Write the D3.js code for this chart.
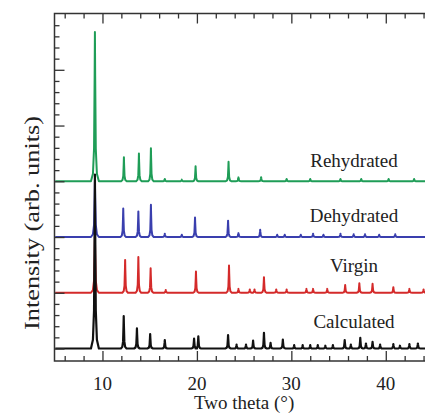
<!DOCTYPE html>
<html><head><meta charset="utf-8">
<script src="https://cdn.jsdelivr.net/npm/d3@7"></script>
<style>html,body{margin:0;padding:0;background:#fff;}svg{display:block;}</style>
</head><body><svg id="c" width="425" height="413"></svg>
<script>
// ---------- data ----------
const categories = ["Calculated", "Virgin", "Dehydrated", "Rehydrated"];
const offsets = [0, 5, 10, 15];
const colors = ["#111111", "#d42a2a", "#3a3fae", "#1f9d57"];
// peaks: [two theta, height above own baseline (arb. units)]
const calculatedPeaks = [[9.2,15.6],[12.25,2.9],[13.65,1.8],[15.05,1.3],[16.6,0.75],[19.7,0.9],[20.15,1.1],[23.3,1.2],[24.2,0.35],[25.2,0.35],[25.95,0.7],[27.1,1.4],[27.8,0.5],[29.1,0.8],[30.3,0.3],[31.2,0.3],[32.0,0.3],[32.8,0.3],[33.6,0.25],[34.4,0.3],[35.65,0.75],[36.3,0.35],[37.3,0.95],[37.9,0.45],[38.6,0.6],[39.4,0.35],[40.8,0.4],[41.5,0.25],[42.5,0.4],[43.4,0.45]];
const virginPeaks = [[9.2,5.0],[12.4,2.95],[13.8,3.2],[15.1,2.2],[16.7,0.25],[19.9,1.9],[23.4,2.45],[24.4,0.35],[25.6,0.3],[26.1,0.3],[27.1,1.4],[28.4,0.3],[29.5,0.3],[31.6,0.35],[32.3,0.35],[33.8,0.35],[35.7,0.7],[37.2,0.85],[38.6,0.8],[40.8,0.5],[42.5,0.35],[44.0,0.3]];
const dehydratedPeaks = [[9.2,5.0],[12.2,2.55],[13.8,2.3],[15.13,2.9],[16.6,0.3],[18.4,0.2],[19.8,1.75],[23.3,1.47],[24.4,0.35],[26.7,0.65],[28.5,0.2],[29.3,0.2],[31.0,0.2],[32.3,0.3],[33.4,0.2],[35.2,0.3],[36.6,0.25],[37.8,0.25],[39.3,0.2],[41.0,0.25]];
const rehydratedPeaks = [[9.2,13.4],[12.27,2.15],[13.86,2.5],[15.13,2.97],[16.6,0.2],[18.4,0.15],[19.86,1.35],[23.35,1.75],[24.4,0.35],[26.8,0.37],[29.5,0.2],[32.0,0.2],[35.2,0.2],[37.4,0.2],[40.3,0.2],[43.0,0.2]];
const seriesPeaks = [calculatedPeaks, virginPeaks, dehydratedPeaks, rehydratedPeaks];
const xTickValues = [10, 20, 30, 40];
const xTitle = "Two theta (\u00b0)";
const yTitle = "Intensity (arb. units)";

// ---------- layout ----------
const L = 54.5, T = 13.5, B = 361, R = 433;
const x = d3.scaleLinear().domain([5, 45]).range([55.25, R]);
const y = d3.scaleLinear().domain([-1.12, 30.05]).range([B, T]);
const svg = d3.select("#c");
const font = "'Liberation Serif','Times New Roman',serif";

// peak profile (shape only): [dx in widths, fraction of height]
const profile = [[-1,0],[-0.5,0.05],[-0.22,0.22],[-0.07,0.7],[0,1],[0.07,0.7],[0.22,0.22],[0.5,0.05],[1,0]];
function buildPoints(peaks) {
  const pts = [[5, 0]];
  peaks.forEach(([p, h]) => {
    const w = h > 4 ? 0.42 : 0.3;
    profile.forEach(([dx, f]) => pts.push([p + dx * w, h * f]));
  });
  pts.push([45, 0]);
  return pts;
}

svg.append("clipPath").attr("id", "pc").append("rect")
  .attr("x", L).attr("y", T).attr("width", R - L).attr("height", B - T);

const plot = svg.append("g").attr("clip-path", "url(#pc)");
const order = [3, 2, 1, 0];
order.forEach(i => {
  const off = offsets[i];
  const line = d3.line().x(d => x(d[0])).y(d => y(d[1] + off));
  plot.append("path").datum(buildPoints(seriesPeaks[i]))
    .attr("d", line).attr("fill", "none")
    .attr("stroke", colors[i]).attr("stroke-width", i === 0 ? 2.2 : 2).attr("stroke-linejoin", "round");
});

// axes
const axisColor = "#333";
const gB = svg.append("g").attr("transform", `translate(0,${B})`)
  .call(d3.axisBottom(x).tickValues(d3.range(6, 45, 2)).tickSize(0).tickFormat(""));
gB.select(".domain").remove();
gB.selectAll(".tick line").remove();
gB.selectAll(".tick").append("line").attr("y2", d => d % 10 === 0 ? -10 : -5)
  .attr("stroke", axisColor).attr("stroke-width", 1.3);
const gT = svg.append("g").attr("transform", `translate(0,${T})`)
  .call(d3.axisTop(x).tickValues(d3.range(6, 45, 2)).tickSize(0).tickFormat(""));
gT.select(".domain").remove();
gT.selectAll(".tick line").remove();
gT.selectAll(".tick").append("line").attr("y2", d => d % 10 === 0 ? 10 : 5)
  .attr("stroke", axisColor).attr("stroke-width", 1.3);
const gL = svg.append("g").attr("transform", `translate(${L},0)`)
  .call(d3.axisLeft(y).tickValues(d3.range(0, 30, 1)).tickSize(0).tickFormat(""));
gL.select(".domain").remove();
gL.selectAll(".tick line").remove();
gL.selectAll(".tick").append("line").attr("x2", d => d % 5 === 0 ? 10 : 5)
  .attr("stroke", axisColor).attr("stroke-width", 1.3);

svg.append("path").attr("d", `M${R},${T}H${L}V${B}H${R}`).attr("fill", "none")
  .attr("stroke", axisColor).attr("stroke-width", 1.5);

// tick labels
svg.append("g").selectAll("text").data(xTickValues).join("text")
  .attr("x", d => x(d)).attr("y", 390).attr("text-anchor", "middle")
  .attr("font-family", font).attr("font-size", 19).attr("fill", "#222").text(d => d);
svg.append("text").attr("x", x(25)).attr("y", 409).attr("text-anchor", "middle")
  .attr("font-family", font).attr("font-size", 19).attr("fill", "#222").text(xTitle);
svg.append("text").attr("transform", "translate(39,223) rotate(-90)").attr("text-anchor", "middle")
  .attr("font-family", font).attr("font-size", 20).attr("fill", "#222")
  .attr("textLength", 214).attr("lengthAdjust", "spacingAndGlyphs").text(yTitle);

// series labels
const labelY = [328, 272, 222, 167];
categories.forEach((c, i) => {
  svg.append("text").attr("x", 354).attr("y", labelY[i]).attr("text-anchor", "middle")
    .attr("font-family", font).attr("font-size", 19).attr("fill", "#222").text(c);
});
</script></body></html>
